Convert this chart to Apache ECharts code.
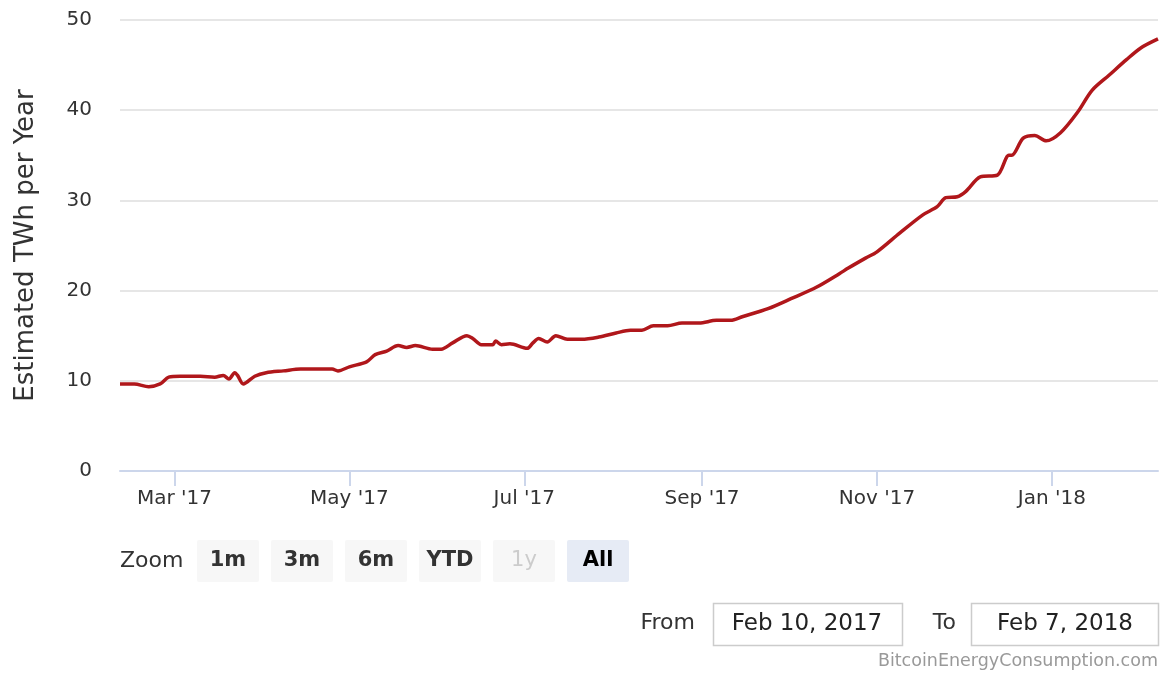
<!DOCTYPE html>
<html>
<head>
<meta charset="utf-8">
<script src="https://cdn.jsdelivr.net/npm/echarts@6/dist/echarts.min.js"></script>
<style>
html,body{margin:0;padding:0;background:#fff;}
#chart{width:1161px;height:673px;}
</style>
</head>
<body>
<div id="chart"></div>
<script>
var dates = ['2017-02-10','2017-02-15','2017-02-20','2017-02-24','2017-02-27','2017-03-03','2017-03-10','2017-03-15','2017-03-18','2017-03-20','2017-03-22','2017-03-23','2017-03-25','2017-03-29','2017-04-02','2017-04-08','2017-04-14','2017-04-20','2017-04-25','2017-04-27','2017-05-01','2017-05-07','2017-05-10','2017-05-14','2017-05-18','2017-05-21','2017-05-24','2017-05-30','2017-06-02','2017-06-06','2017-06-11','2017-06-13','2017-06-16','2017-06-20','2017-06-21','2017-06-23','2017-06-26','2017-07-02','2017-07-04','2017-07-06','2017-07-09','2017-07-12','2017-07-16','2017-07-21','2017-07-27','2017-08-02','2017-08-07','2017-08-11','2017-08-15','2017-08-20','2017-08-25','2017-08-31','2017-09-06','2017-09-11','2017-09-15','2017-09-24','2017-10-02','2017-10-11','2017-10-19','2017-10-22','2017-10-28','2017-11-01','2017-11-09','2017-11-17','2017-11-22','2017-11-25','2017-11-29','2017-12-02','2017-12-07','2017-12-13','2017-12-17','2017-12-18','2017-12-22','2017-12-26','2017-12-30','2018-01-04','2018-01-10','2018-01-15','2018-01-21','2018-01-27','2018-02-01','2018-02-07'];
var values = [9.65,9.65,9.35,9.65,10.4,10.5,10.5,10.4,10.6,10.2,10.9,10.6,9.65,10.5,10.9,11.1,11.3,11.3,11.3,11.1,11.55,12.1,12.9,13.3,13.9,13.7,13.9,13.5,13.5,14.2,15.0,14.7,14.0,14.0,14.4,14.0,14.1,13.6,14.2,14.7,14.3,15.0,14.6,14.6,14.85,15.3,15.6,15.6,16.1,16.1,16.4,16.4,16.7,16.7,17.1,18.0,19.1,20.4,21.9,22.5,23.6,24.3,26.4,28.4,29.3,30.3,30.4,31.0,32.6,32.8,35.0,35.0,36.9,37.2,36.6,37.5,39.8,42.2,43.9,45.6,46.9,47.9];
var tickDates = ['2017-03-01','2017-05-01','2017-07-01','2017-09-01','2017-11-01','2018-01-01'];
var tickLabels = ["Mar '17","May '17","Jul '17","Sep '17","Nov '17","Jan '18"];
var yTicks = [0,10,20,30,40,50];
var rangeStart = '2017-02-10';
var rangeEnd = '2018-02-07';
var yTitle = 'Estimated TWh per Year';
var zoomButtons = ['1m','3m','6m','YTD','1y','All'];
var fromText = 'Feb 10, 2017';
var toText = 'Feb 7, 2018';
var credit = 'BitcoinEnergyConsumption.com';

function ts(s){var p=s.split('-');return Date.UTC(+p[0],+p[1]-1,+p[2]);}
var seriesData = dates.map(function(d,i){return [ts(d), values[i]];});
var tickVals = tickDates.map(ts);

var FONT = 'DejaVu Sans';
var graphics = [];
graphics.push({type:'text',x:120,y:561,style:{text:'Zoom',font:'22px "DejaVu Sans"',fill:'#333',verticalAlign:'middle'}});
zoomButtons.forEach(function(b,i){
  var x = 197 + i*74;
  var active = b==='All', disabled = b==='1y';
  graphics.push({type:'rect',shape:{x:x,y:540,width:62,height:42,r:2},style:{fill:active?'#e6ebf5':'#f7f7f7'}});
  graphics.push({type:'text',x:x+31,y:561,style:{text:b,font:(disabled?'':'bold ')+'21px "DejaVu Sans"',fill:disabled?'#cccccc':(active?'#000':'#333'),align:'center',verticalAlign:'middle'}});
});
graphics.push({type:'text',x:695,y:623,style:{text:'From',font:'22px "DejaVu Sans"',fill:'#333',align:'right',verticalAlign:'middle'}});
graphics.push({type:'rect',shape:{x:713.5,y:603.5,width:189,height:42},style:{fill:'#fff',stroke:'#cccccc',lineWidth:1.5}});
graphics.push({type:'text',x:807,y:624,style:{text:fromText,font:'23px "DejaVu Sans"',fill:'#222',align:'center',verticalAlign:'middle'}});
graphics.push({type:'text',x:956,y:623,style:{text:'To',font:'22px "DejaVu Sans"',fill:'#333',align:'right',verticalAlign:'middle'}});
graphics.push({type:'rect',shape:{x:971.5,y:603.5,width:187,height:42},style:{fill:'#fff',stroke:'#cccccc',lineWidth:1.5}});
graphics.push({type:'text',x:1065,y:624,style:{text:toText,font:'23px "DejaVu Sans"',fill:'#222',align:'center',verticalAlign:'middle'}});
graphics.push({type:'text',x:1158,y:661,style:{text:credit,font:'17.5px "DejaVu Sans"',fill:'#999',align:'right',verticalAlign:'middle'}});

var chart = echarts.init(document.getElementById('chart'));
chart.setOption({
  animation:false,
  backgroundColor:'#fff',
  grid:{left:120,right:3,top:20,bottom:202,containLabel:false},
  xAxis:{
    type:'value', min:ts(rangeStart), max:ts(rangeEnd),
    axisLine:{show:true,lineStyle:{color:'#ccd6eb',width:2}},
    axisTick:{show:true,length:15,lineStyle:{color:'#ccd6eb',width:2},customValues:tickVals},
    axisLabel:{customValues:tickVals,margin:18,fontFamily:FONT,fontSize:20,color:'#333',showMinLabel:true,showMaxLabel:true,
      formatter:function(v){var i=tickVals.indexOf(v);return i>=0?tickLabels[i]:'';}},
    splitLine:{show:false}
  },
  yAxis:{
    type:'value', min:yTicks[0], max:yTicks[yTicks.length-1], interval:10,
    name:yTitle, nameLocation:'middle', nameGap:81, nameRotate:90,
    nameTextStyle:{fontFamily:FONT,fontSize:26,color:'#333'},
    axisLine:{show:false}, axisTick:{show:false},
    axisLabel:{margin:28,fontFamily:FONT,fontSize:20,color:'#333'},
    splitLine:{lineStyle:{color:'#e6e6e6',width:2}}
  },
  series:[{type:'line',data:seriesData,showSymbol:false,smooth:0.3,
    lineStyle:{color:'#b0171b',width:3.5},itemStyle:{color:'#b0171b'}}],
  graphic:graphics
});
</script>
</body>
</html>
